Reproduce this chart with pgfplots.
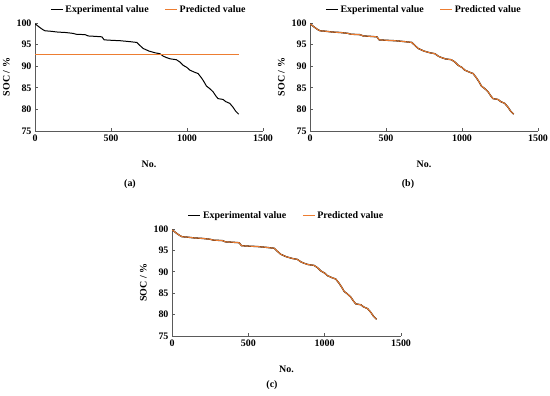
\documentclass[border=0pt]{standalone}
\usepackage{pgfplots}
\pgfplotsset{compat=1.18}
\usepackage{fontspec}
\setmainfont{Liberation Serif}
\definecolor{predorange}{RGB}{237,125,49}
\definecolor{axgray}{RGB}{90,90,90}
\pgfplotstableread{
x y
0 99.8
12 99.5
30 99.0
50 98.5
66 98.2
100 98.1
150 97.9
200 97.8
250 97.6
270 97.4
330 97.3
350 97.0
400 96.9
440 96.8
455 96.1
500 96.0
560 95.9
620 95.7
670 95.5
690 94.8
712 94.1
750 93.5
790 93.1
821 92.9
845 92.3
865 92.0
890 91.7
930 91.5
952 91.0
975 90.2
1000 89.7
1018 89.1
1050 88.6
1073 88.3
1095 87.3
1110 86.5
1128 85.4
1150 84.8
1171 84.1
1190 83.1
1204 82.5
1237 82.3
1255 81.8
1281 81.4
1303 80.5
1320 79.6
1340 78.9
}\expdata
\pgfplotstableread{
x y
0 92.8
1340 92.8
}\preda
\pgfplotsset{
  socaxis/.style={
    scale only axis,
    width=228bp, height=108bp,
    xmin=0, xmax=1500, ymin=75, ymax=100,
    xtick={0,500,1000,1500}, ytick={75,80,85,90,95,100},
    axis x line*=bottom, axis y line*=left,
    axis line style={axgray, line width=0.8pt},
    tick style={axgray, line width=0.8pt},
    tick align=inside, major tick length=3bp,
    ticklabel style={font=\fontsize{10}{11}\selectfont\bfseries},
    /pgf/number format/assume math mode=true,
    /pgf/number format/set thousands separator={},
    xlabel={No.}, ylabel={SOC / \%},
    label style={font=\fontsize{10}{11}\selectfont\bfseries},
    xlabel style={yshift=-13bp},
    ylabel style={yshift=0bp},
    legend style={at={(0.5,1)}, anchor=south, yshift=5bp, draw=none, fill=none,
      legend columns=2, font=\fontsize{10}{11}\selectfont\bfseries,
      /tikz/every even column/.append style={column sep=14bp}},
    legend cell align=left,
    legend image code/.code={\draw[##1] (0bp,0bp) -- (12bp,0bp);},
  }
}
\begin{document}
\begin{tikzpicture}
\useasboundingbox (0bp,0bp) rectangle (550bp,396bp);
% (a)
\begin{axis}[socaxis, at={(35bp,265bp)}, anchor=south west]
\addplot[black, line width=1pt] table[x=x,y=y]{\expdata};
\addlegendentry{Experimental value}
\addplot[predorange, line width=1pt] table[x=x,y=y]{\preda};
\addlegendentry{Predicted value}
\end{axis}
\node[font=\fontsize{10}{11}\selectfont\bfseries] at (130bp,212bp) {(a)};
% (b)
\begin{axis}[socaxis, at={(310bp,265bp)}, anchor=south west]
\addplot[black, line width=1.3pt] table[x=x,y=y]{\expdata};
\addlegendentry{Experimental value}
\addplot[predorange, line width=1pt] table[x=x,y=y]{\expdata};
\addlegendentry{Predicted value}
\end{axis}
\node[font=\fontsize{10}{11}\selectfont\bfseries] at (408bp,212bp) {(b)};
% (c)
\begin{axis}[socaxis, width=229bp, height=107bp, at={(172bp,60bp)}, anchor=south west]
\addplot[black, line width=1.3pt] table[x=x,y=y]{\expdata};
\addlegendentry{Experimental value}
\addplot[predorange, line width=1pt] table[x=x,y=y]{\expdata};
\addlegendentry{Predicted value}
\end{axis}
\node[font=\fontsize{10}{11}\selectfont\bfseries] at (272bp,11bp) {(c)};
\end{tikzpicture}
\end{document}
